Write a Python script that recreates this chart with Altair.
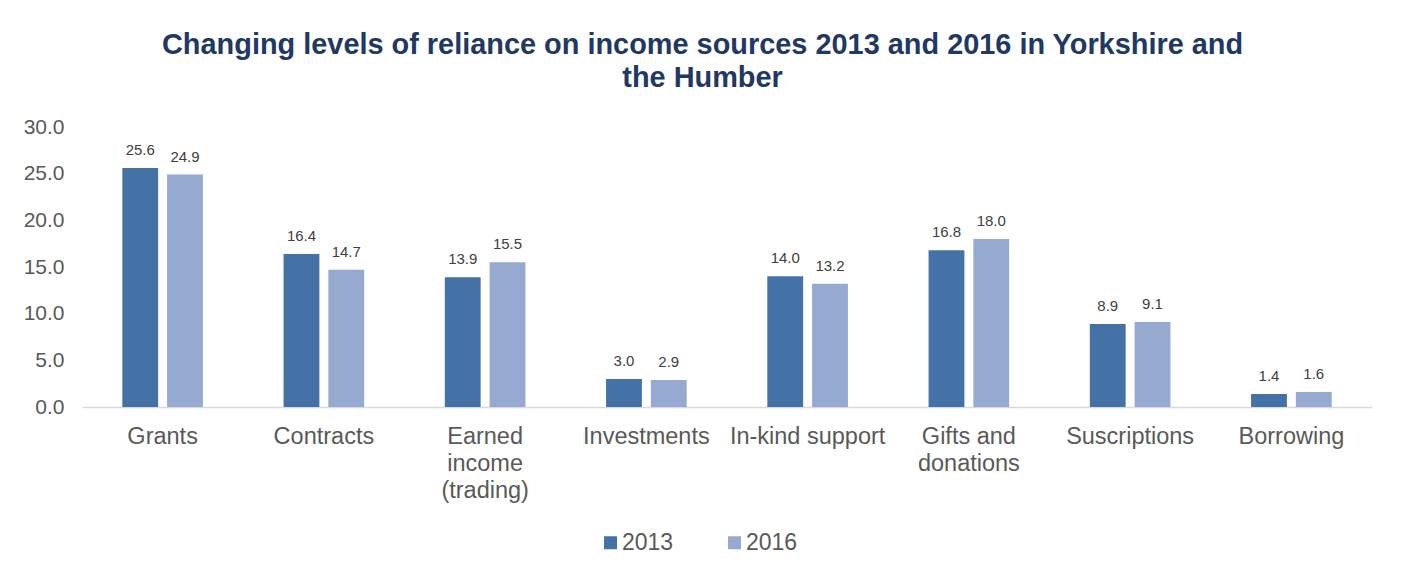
import altair as alt
import pandas as pd

categories = ["Grants", "Contracts", "Earned income (trading)", "Investments",
              "In-kind support", "Gifts and donations", "Suscriptions", "Borrowing"]
values_2013 = [25.6, 16.4, 13.9, 3.0, 14.0, 16.8, 8.9, 1.4]
values_2016 = [24.9, 14.7, 15.5, 2.9, 13.2, 18.0, 9.1, 1.6]
years = ["2013", "2016"]
colors = ["#4472A7", "#95A9D1"]

rows = []
for c, a, b in zip(categories, values_2013, values_2016):
    rows.append({"Category": c, "Year": "2013", "Value": a})
    rows.append({"Category": c, "Year": "2016", "Value": b})
df = pd.DataFrame(rows)

label_expr = ("datum.label == 'Earned income (trading)' ? ['Earned','income','(trading)'] : "
              "datum.label == 'Gifts and donations' ? ['Gifts and','donations'] : datum.label")

x = alt.X("Category:N", sort=categories, title=None,
          scale=alt.Scale(paddingInner=0.5, paddingOuter=0.25),
          axis=alt.Axis(labelAngle=0, labelFontSize=23.5, labelColor="#595959",
                        labelPadding=17, labelLineHeight=27, labelExpr=label_expr,
                        domainColor="#D9D9D9", domainWidth=1.5, ticks=False,
                        labelFont="Liberation Sans"))
xo = alt.XOffset("Year:N", sort=years, scale=alt.Scale(paddingInner=0.2))
y = alt.Y("Value:Q", title=None,
          scale=alt.Scale(domain=[0, 30]),
          axis=alt.Axis(values=[0, 5, 10, 15, 20, 25, 30], format=".1f",
                        labelFontSize=21, labelColor="#595959", labelPadding=18,
                        domain=False, ticks=False, grid=False,
                        labelFont="Liberation Sans"))

base = alt.Chart(df)
bars = base.mark_bar().encode(
    x=x, xOffset=xo, y=y,
    color=alt.Color("Year:N", sort=years,
                    scale=alt.Scale(domain=years, range=colors),
                    legend=alt.Legend(title=None, orient="none", direction="horizontal",
                                      legendX=517, legendY=404,
                                      symbolType="square", symbolSize=169,
                                      symbolStrokeWidth=0,
                                      labelFontSize=23, labelColor="#595959",
                                      labelFont="Liberation Sans",
                                      columnPadding=49, symbolOffset=0, padding=0,
                                      labelOffset=0)),
)
labels = base.mark_text(baseline="alphabetic", dy=-13, fontSize=15, color="#404040",
                        font="Liberation Sans").encode(
    x=x, xOffset=xo, y=y,
    text=alt.Text("Value:Q", format=".1f"),
)

chart = alt.layer(bars, labels).properties(
    width=1290, height=280,
    background="white",
    title=alt.TitleParams(
        text=["Changing levels of reliance on income sources 2013 and 2016 in Yorkshire and",
              "the Humber"],
        font="Liberation Sans", fontSize=28.9, fontWeight="bold", color="#1F3864",
        lineHeight=33, anchor="middle", frame="bounds", offset=23, dx=5),
    padding={"left": 15, "top": 23, "right": 22, "bottom": 5},
).configure_view(strokeWidth=0)

chart.save("out.html", embed_options={"renderer": "svg", "actions": False})
